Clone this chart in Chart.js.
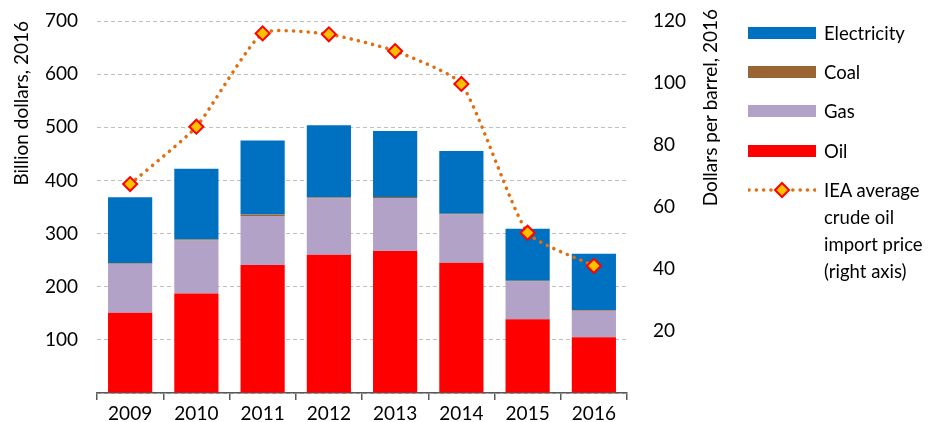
<!DOCTYPE html>
<html>
<head>
<meta charset="utf-8">
<script src="https://cdn.jsdelivr.net/npm/chart.js@4"></script>
<style>
  html, body { margin: 0; padding: 0; background: #fff; }
  #wrap { position: relative; width: 933px; height: 422px; font-family: Lato, "Open Sans", sans-serif; }
  #chart { position: absolute; left: 0; top: 0; }
  .item { position: absolute; left: 748px; font-size: 18.5px; color: #000; line-height: 27px; }
  .item .sw { position: absolute; left: 0; width: 68px; height: 12px; }
  .item .tx { position: absolute; left: 76px; white-space: nowrap; }
</style>
</head>
<body>
<div id="wrap">
  <canvas id="chart" width="933" height="422"></canvas>
  <div id="legend"></div>
</div>
<script>
// Fossil fuel consumption subsidies (stacked, left axis) and oil price (right axis)
const years = ["2009", "2010", "2011", "2012", "2013", "2014", "2015", "2016"];
const oil = [151, 187, 241, 260, 267, 245, 139, 105];
const gas = [92, 100, 92, 106, 100, 91, 71, 50];
const coal = [1.5, 2, 3, 2, 2, 1.5, 1, 1];
const electricity = [124, 133, 139, 136, 124, 118, 98, 106];
const oilPrice = [67.4, 85.9, 116, 115.7, 110.3, 99.7, 51.7, 41];

const leftTicks = [100, 200, 300, 400, 500, 600, 700];
const rightTicks = [20, 40, 60, 80, 100, 120];

const COLORS = {
  oil: "#FF0000",
  gas: "#B3A2C7",
  coal: "#996633",
  electricity: "#0070C0",
  price: "#E46C0A",
};
const FONT = "Lato, 'Open Sans', sans-serif";
const SIZE = 19;

// Right-axis title reads bottom-to-top, which Chart.js doesn't do for a right axis
const rightTitle = {
  id: "rightTitle",
  afterDraw(chart) {
    const ctx = chart.ctx;
    ctx.save();
    ctx.translate(711, 9);
    ctx.rotate(-Math.PI / 2);
    ctx.font = SIZE + "px " + FONT;
    ctx.fillStyle = "#000";
    ctx.textAlign = "right";
    ctx.textBaseline = "middle";
    ctx.fillText("Dollars per barrel, 2016", 0, 0);
    ctx.restore();
  },
};

const barSet = (label, data, color) => ({
  type: "bar",
  label,
  data,
  backgroundColor: color,
  borderWidth: 0,
  stack: "s",
  yAxisID: "y",
  order: 1,
  categoryPercentage: 1,
  barPercentage: 0.667,
});

new Chart(document.getElementById("chart"), {
  data: {
    labels: years,
    datasets: [
      {
        type: "line",
        label: "IEA average crude oil import price (right axis)",
        data: oilPrice,
        yAxisID: "y1",
        order: 0,
        borderColor: COLORS.price,
        borderWidth: 3.5,
        borderDash: [0.1, 7.2],
        borderCapStyle: "round",
        tension: 0.18,
        pointStyle: "rectRot",
        pointRadius: 7,
        pointBackgroundColor: "#FFC000",
        pointBorderColor: "#FF0000",
        pointBorderWidth: 2,
      },
      barSet("Oil", oil, COLORS.oil),
      barSet("Gas", gas, COLORS.gas),
      barSet("Coal", coal, COLORS.coal),
      barSet("Electricity", electricity, COLORS.electricity),
    ],
  },
  options: {
    responsive: false,
    animation: false,
    layout: { padding: { left: 6, top: 21, right: 211, bottom: 0 } },
    plugins: { legend: { display: false }, tooltip: { enabled: false } },
    scales: {
      x: {
        stacked: true,
        offset: true,
        grid: {
          offset: true,
          drawOnChartArea: false,
          drawTicks: true,
          tickLength: 7,
          color: "#595959",
          lineWidth: 1.5,
        },
        border: { color: "#595959", width: 1.5 },
        ticks: { color: "#000", padding: 2, font: { family: FONT, size: SIZE } },
        afterFit: (s) => { s.height = 29; },
      },
      y: {
        stacked: true,
        position: "left",
        min: 0,
        max: 700,
        afterBuildTicks: (s) => { s.ticks = [0, ...leftTicks].map((v) => ({ value: v })); },
        // transparent tick marks just push the labels away from the plot
        grid: { color: "#C0C0C0", lineWidth: 1, drawTicks: true, tickLength: 17, tickColor: "rgba(0,0,0,0)" },
        border: { display: false, dash: [4, 3] },
        ticks: {
          color: "#000",
          padding: 2,
          font: { family: FONT, size: SIZE },
          callback: (v) => (v === 0 ? "" : v),
        },
        title: {
          display: true,
          text: "Billion dollars, 2016",
          align: "end",
          color: "#000",
          font: { family: FONT, size: SIZE },
          padding: { top: 4, bottom: 4 },
        },
        afterFit: (s) => { s.width = 91; },
      },
      y1: {
        position: "right",
        min: 0,
        max: 120,
        afterBuildTicks: (s) => { s.ticks = [0, ...rightTicks].map((v) => ({ value: v })); },
        grid: { drawOnChartArea: false, drawTicks: true, tickLength: 24, tickColor: "rgba(0,0,0,0)" },
        border: { display: false },
        ticks: {
          color: "#000",
          padding: 2,
          font: { family: FONT, size: SIZE },
          callback: (v) => (v === 0 ? "" : v),
        },
        afterFit: (s) => { s.width = 95; },
      },
    },
  },
  plugins: [rightTitle],
});

// HTML legend on the right
const legendItems = [
  { label: "Electricity", color: COLORS.electricity, y: 33 },
  { label: "Coal", color: COLORS.coal, y: 72 },
  { label: "Gas", color: COLORS.gas, y: 111 },
  { label: "Oil", color: COLORS.oil, y: 151 },
];
const legend = document.getElementById("legend");
legendItems.forEach((it) => {
  const d = document.createElement("div");
  d.className = "item";
  d.style.top = it.y - 13 + "px";
  d.innerHTML = `<div class="sw" style="top:7px;background:${it.color}"></div><div class="tx">${it.label}</div>`;
  legend.appendChild(d);
});
const priceItem = document.createElement("div");
priceItem.className = "item";
priceItem.style.top = 190 - 13 + "px";
priceItem.innerHTML =
  `<svg class="sw" style="top:3px;height:20px" width="68" height="20">` +
  `<line x1="1" y1="10" x2="67" y2="10" stroke="${COLORS.price}" stroke-width="3.5" stroke-linecap="round" stroke-dasharray="0.1 7.2"/>` +
  `<polygon points="34,3 41,10 34,17 27,10" fill="#FFC000" stroke="#FF0000" stroke-width="2"/></svg>` +
  `<div class="tx">IEA average<br>crude oil<br>import price<br>(right axis)</div>`;
legend.appendChild(priceItem);
</script>
</body>
</html>
